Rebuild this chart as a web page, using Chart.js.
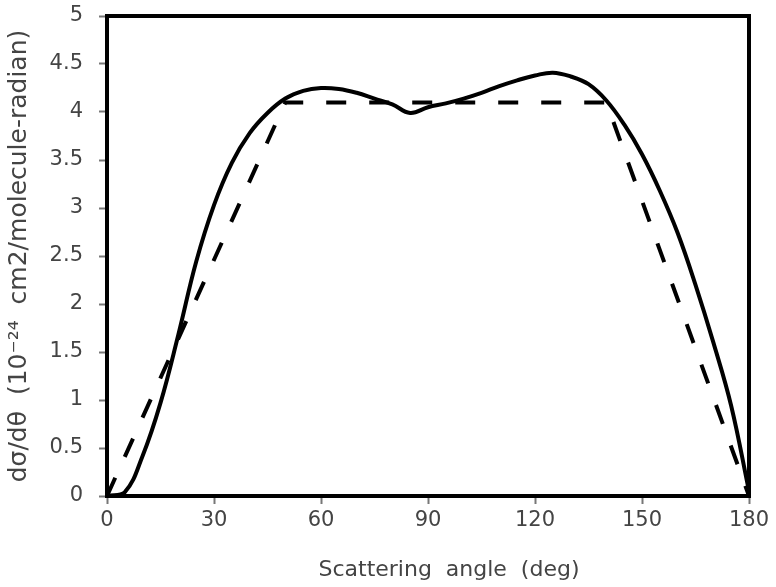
<!DOCTYPE html>
<html lang="en">
<head>
    <meta charset="UTF-8">
    <title>Scattering cross section</title>
    <script src="https://cdn.jsdelivr.net/npm/chart.js@4.4.0/dist/chart.umd.min.js"></script>
    <style>
        html, body { margin: 0; padding: 0; background: #fff; }
        .chart-container { position: relative; width: 776px; height: 587px; }
    </style>
</head>
<body>
    <div class="chart-container">
        <canvas id="scatterChart" width="776" height="587"></canvas>
    </div>
    <script>
        // solid curve (measured)
        const solidAngles = [0, 5, 10, 15, 20, 25, 30, 35, 40, 45, 50, 55, 60, 65, 70, 75, 80, 85, 90, 95, 100, 105, 110, 115, 120, 125, 130, 135, 140, 145, 150, 155, 160, 165, 170, 175, 180];
        const solidValues = [0, 0.04, 0.42, 0.97, 1.68, 2.44, 3.03, 3.47, 3.78, 3.99, 4.14, 4.22, 4.25, 4.24, 4.2, 4.14, 4.08, 3.99, 4.05, 4.09, 4.14, 4.2, 4.27, 4.33, 4.38, 4.41, 4.37, 4.29, 4.12, 3.87, 3.56, 3.18, 2.74, 2.2, 1.6, 0.94, 0.05];

        // dashed curve (model)
        const dashedAngles = [0, 50, 140, 180];
        const dashedValues = [0, 4.1, 4.1, 0];

        const xTicks = [0, 30, 60, 90, 120, 150, 180];
        const yTicks = [0, 0.5, 1, 1.5, 2, 2.5, 3, 3.5, 4, 4.5, 5];

        const toPoints = (xs, ys) => xs.map((x, i) => ({ x: x, y: ys[i] }));

        // thick frame round the plot area
        const frame = {
            id: 'frame',
            afterDatasetsDraw(chart) {
                const a = chart.chartArea;
                const ctx = chart.ctx;
                ctx.save();
                ctx.strokeStyle = '#000';
                ctx.lineWidth = 4;
                ctx.strokeRect(a.left, a.top, a.right - a.left, a.bottom - a.top);
                ctx.restore();
            }
        };

        const tickFont = { family: 'DejaVu Sans, sans-serif', size: 21 };

        new Chart(document.getElementById('scatterChart'), {
            type: 'line',
            data: {
                datasets: [{
                    data: toPoints(solidAngles, solidValues),
                    borderColor: '#000',
                    borderWidth: 4,
                    pointRadius: 0,
                    tension: 0.4,
                    fill: false
                }, {
                    data: toPoints(dashedAngles, dashedValues),
                    borderColor: '#000',
                    borderWidth: 4,
                    borderDash: [20, 23],
                    pointRadius: 0,
                    tension: 0,
                    fill: false
                }]
            },
            options: {
                responsive: false,
                animation: false,
                layout: { padding: { top: 16, right: 27, left: 0, bottom: 0 } },
                plugins: {
                    legend: { display: false },
                    tooltip: { enabled: false }
                },
                scales: {
                    x: {
                        type: 'linear',
                        min: 0,
                        max: 180,
                        afterBuildTicks: s => { s.ticks = xTicks.map(v => ({ value: v })); },
                        afterFit: s => { s.height = 91; s.paddingLeft = 0; s.paddingRight = 0; },
                        grid: { drawOnChartArea: false, tickLength: 8, tickWidth: 2, tickColor: '#777' },
                        border: { display: false },
                        ticks: { color: '#444', font: tickFont, padding: 4, maxRotation: 0 },
                        title: {
                            display: true,
                            text: '\u00A0\u00A0\u00A0\u00A0\u00A0\u00A0Scattering  angle  (deg)',
                            color: '#444',
                            font: { family: 'DejaVu Sans, sans-serif', size: 22 },
                            padding: { top: 10 }
                        }
                    },
                    y: {
                        min: 0,
                        max: 5,
                        afterBuildTicks: s => { s.ticks = yTicks.map(v => ({ value: v })); },
                        afterFit: s => { s.width = 107; s.paddingTop = 0; s.paddingBottom = 0; },
                        grid: { drawOnChartArea: false, tickLength: 8, tickWidth: 2, tickColor: '#777' },
                        border: { display: false },
                        ticks: { color: '#444', font: tickFont, padding: 16, callback: v => String(v) },
                        title: {
                            display: true,
                            text: 'd\u03C3/d\u03B8  (10\u207B\u00B2\u2074  cm2/molecule-radian)',
                            color: '#444',
                            font: { family: 'DejaVu Sans, sans-serif', size: 25 },
                            padding: { top: 4, bottom: 0 }
                        }
                    }
                }
            },
            plugins: [frame]
        });
    </script>
</body>
</html>
